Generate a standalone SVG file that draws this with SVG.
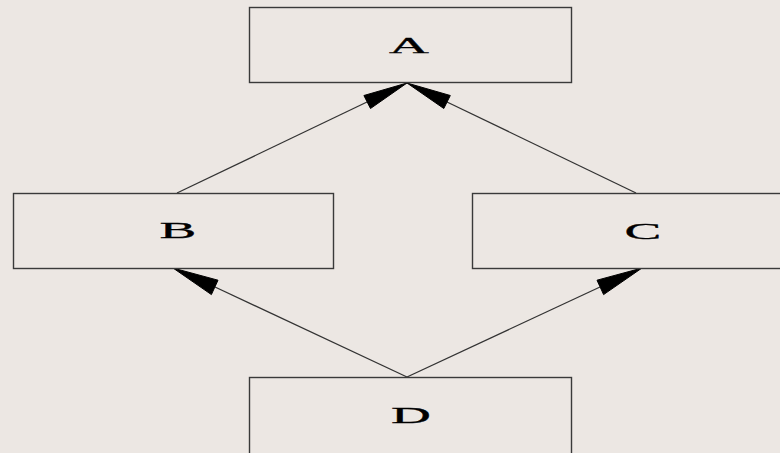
<svg xmlns="http://www.w3.org/2000/svg" width="780" height="453" viewBox="0 0 780 453">
<style>
.box{fill:#ECE7E3;stroke:#3a3a3a;stroke-width:1.4}
.lbl{font-family:"Liberation Serif","Times New Roman",serif;font-size:24px;fill:#000;text-anchor:middle;stroke:#000;stroke-width:0.3}
.edge{stroke:#333;stroke-width:1.3;fill:none}
.head{fill:#000;stroke:#000;stroke-width:1}
</style>
<rect width="780" height="453" fill="#ECE7E3"/>
<g id="connectors">
<line class="edge" x1="177" y1="193" x2="367" y2="102"/>
<polygon class="head" points="407,83 370.5,108.5 363.9,95.5"/>
<line class="edge" x1="636" y1="193" x2="447" y2="102"/>
<polygon class="head" points="407,83 443.8,108.5 450.3,95.5"/>
<line class="edge" x1="407" y1="377" x2="215" y2="287"/>
<polygon class="head" points="173,268 211.4,294.6 218.0,280.2"/>
<line class="edge" x1="407" y1="377" x2="600" y2="287"/>
<polygon class="head" points="642,268 603.6,294.6 597.0,280.2"/>
</g>
<g id="A">
<rect class="box" x="249.5" y="7.5" width="322" height="75"/>
<text class="lbl" transform="translate(409,53) scale(2.3,1)">A</text>
</g>
<g id="B">
<rect class="box" x="13.5" y="193.5" width="320" height="75"/>
<text class="lbl" transform="translate(178,238) scale(2.3,1)">B</text>
</g>
<g id="C">
<rect class="box" x="472.5" y="193.5" width="320" height="75"/>
<text class="lbl" transform="translate(643,239) scale(2.3,1)">C</text>
</g>
<g id="D">
<rect class="box" x="249.5" y="377.5" width="322" height="90"/>
<text class="lbl" transform="translate(411,423) scale(2.3,1)">D</text>
</g>
</svg>
